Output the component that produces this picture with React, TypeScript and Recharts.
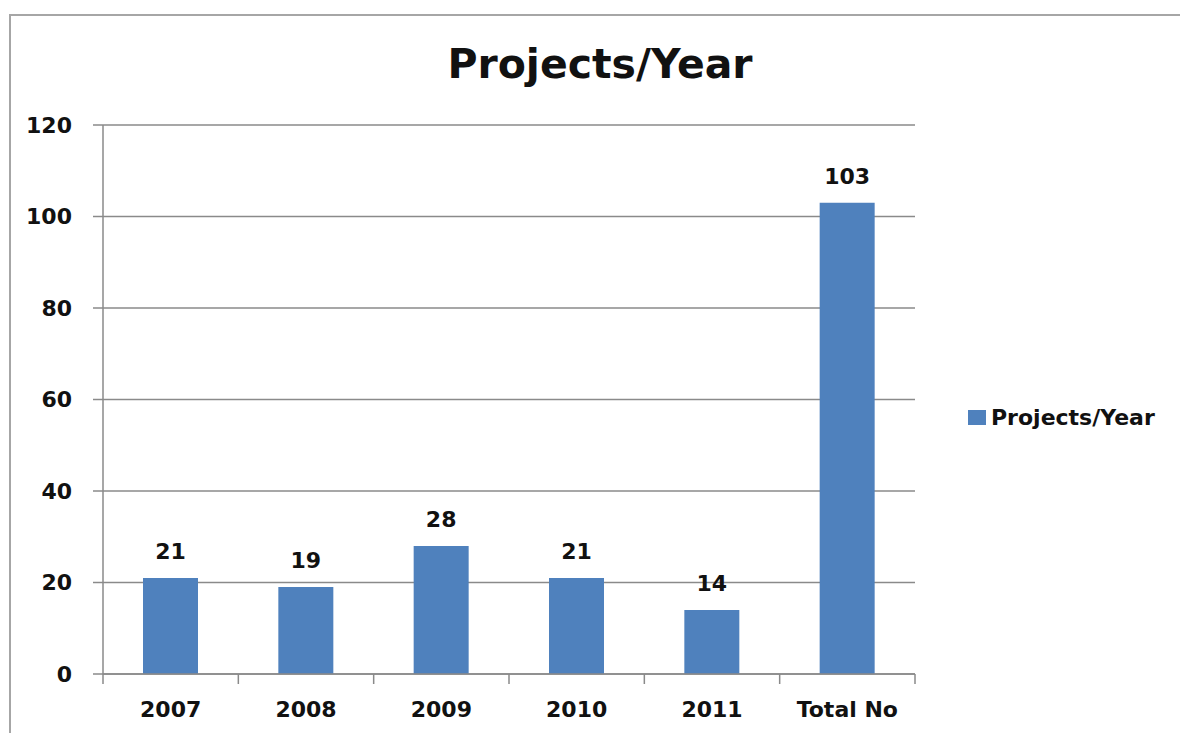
import React from 'react';
import { BarChart, Bar, XAxis, YAxis, CartesianGrid, LabelList } from 'recharts';

const CATEGORIES = ['2007', '2008', '2009', '2010', '2011', 'Total No'];
const PROJECTS = [21, 19, 28, 21, 14, 103];
const Y_TICKS = [0, 20, 40, 60, 80, 100, 120];
const SERIES_NAME = 'Projects/Year';
const TITLE = 'Projects/Year';

const data = CATEGORIES.map((c, i) => ({ name: c, value: PROJECTS[i], pos: i + 0.5 }));
const boundaryTicks = [...CATEGORIES.map((_, i) => i), CATEGORIES.length];

const FONT = '"DejaVu Sans", Verdana, sans-serif';
const BLUE = '#4F81BD';
const GRAY = '#8a8a8a';

const EmptyTick = () => <g />;

export default function App() {
  return (
    <div style={{ position: 'absolute', left: 0, top: 0, width: 1180, height: 733, background: '#fff', overflow: 'hidden' }}>
      <div style={{ position: 'absolute', left: 9, top: 14, width: 1200, height: 760, borderLeft: '2px solid #a6a6a6', borderTop: '2px solid #a6a6a6' }} />
      <div style={{ position: 'absolute', left: 0, top: 38, width: 1200, textAlign: 'center', fontFamily: FONT, fontWeight: 'bold', fontSize: 41, color: '#111', lineHeight: '52px' }}>
        {TITLE}
      </div>
      <div style={{ position: 'absolute', left: 0, top: 0 }}>
        <BarChart width={1180} height={733} data={data} margin={{ top: 125, right: 265, bottom: 19, left: 43 }}>
          <CartesianGrid vertical={false} stroke={GRAY} strokeWidth={1.5} />
          <XAxis
            xAxisId="bounds"
            type="number"
            dataKey="pos"
            domain={[0, CATEGORIES.length]}
            allowDataOverflow
            ticks={boundaryTicks}
            interval={0}
            tick={<EmptyTick />}
            axisLine={{ stroke: GRAY, strokeWidth: 1.5 }}
            tickLine={{ stroke: GRAY, strokeWidth: 1.5 }}
            tickSize={10}
            height={2}
          />
          <XAxis
            xAxisId="cat"
            dataKey="name"
            type="category"
            axisLine={false}
            tickLine={false}
            tickSize={0}
            tickMargin={25}
            height={38}
            interval={0}
            tick={{ fill: '#111', fontFamily: FONT, fontWeight: 'bold', fontSize: 22 }}
          />
          <YAxis
            domain={[0, 120]}
            ticks={Y_TICKS}
            width={60}
            axisLine={{ stroke: GRAY, strokeWidth: 1.5 }}
            tickLine={{ stroke: GRAY, strokeWidth: 1.5 }}
            tickSize={10}
            tickMargin={21}
            tick={{ fill: '#111', fontFamily: FONT, fontWeight: 'bold', fontSize: 22 }}
          />
          <Bar xAxisId="cat" dataKey="value" name={SERIES_NAME} fill={BLUE} barSize={55} isAnimationActive={false}>
            <LabelList dataKey="value" position="top" offset={19} fill="#111" fontFamily={FONT} fontWeight="bold" fontSize={22} />
          </Bar>
        </BarChart>
      </div>
      <div style={{ position: 'absolute', left: 968, top: 405, display: 'flex', alignItems: 'center', fontFamily: FONT, fontWeight: 'bold', fontSize: 22, color: '#111', whiteSpace: 'nowrap' }}>
        <span style={{ display: 'inline-block', width: 18, height: 15, background: BLUE, marginRight: 5 }} />
        <span>{SERIES_NAME}</span>
      </div>
    </div>
  );
}
